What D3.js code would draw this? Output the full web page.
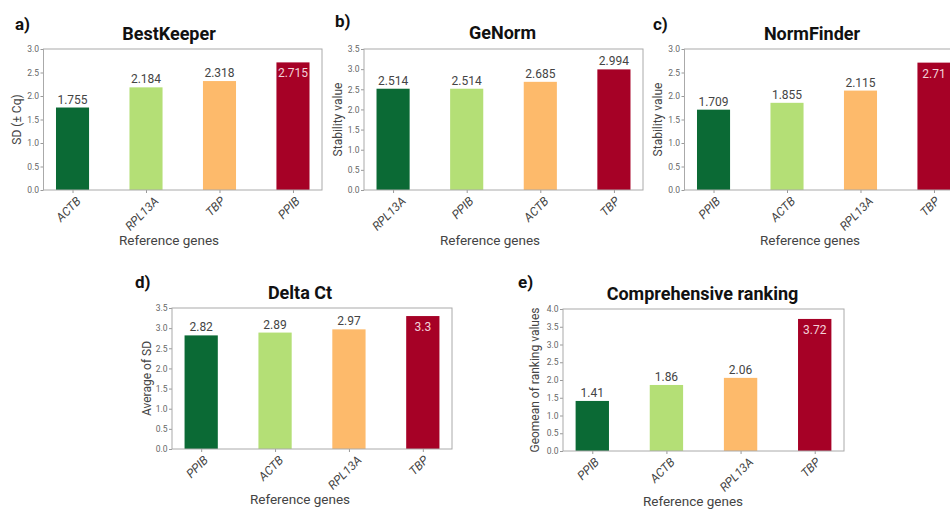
<!DOCTYPE html>
<html>
<head>
<meta charset="utf-8">
<script src="https://cdn.jsdelivr.net/npm/d3@7"></script>
<style>
  body { margin: 0; background: #fff; }
  text { font-family: Roboto, "Noto Sans", sans-serif; }
</style>
</head>
<body>
<script>
// Data
const bestKeeperGenes = ["ACTB", "RPL13A", "TBP", "PPIB"];
const bestKeeperValues = [1.755, 2.184, 2.318, 2.715];

const geNormGenes = ["RPL13A", "PPIB", "ACTB", "TBP"];
const geNormValues = [2.514, 2.514, 2.685, 2.994];

const normFinderGenes = ["PPIB", "ACTB", "RPL13A", "TBP"];
const normFinderValues = [1.709, 1.855, 2.115, 2.71];

const deltaCtGenes = ["PPIB", "ACTB", "RPL13A", "TBP"];
const deltaCtValues = [2.82, 2.89, 2.97, 3.3];

const rankingGenes = ["PPIB", "ACTB", "RPL13A", "TBP"];
const rankingValues = [1.41, 1.86, 2.06, 3.72];

const ticks30 = [0, 0.5, 1.0, 1.5, 2.0, 2.5, 3.0];
const ticks35 = [0, 0.5, 1.0, 1.5, 2.0, 2.5, 3.0, 3.5];
const ticks40 = [0, 0.5, 1.0, 1.5, 2.0, 2.5, 3.0, 3.5, 4.0];

// one colour per rank (most to least stable)
const rankColors = ["#0b6a35", "#b4df76", "#fdba6b", "#a60126"];

const width = 950, height = 510;

// panel layout
const panels = [
  { letter: "a)", title: "BestKeeper", ylab: "SD (\u00b1 Cq)", genes: bestKeeperGenes, values: bestKeeperValues, ticks: ticks30,
    x0: 43.5, x1: 322, y0: 49, y1: 190, lx: 15, ly: 30, tx: 169, ty: 40, xtx: 169, ylx: 16.5 },
  { letter: "b)", title: "GeNorm", ylab: "Stability value", genes: geNormGenes, values: geNormValues, ticks: ticks35,
    x0: 364, x1: 643, y0: 49, y1: 190, lx: 335, ly: 27, tx: 502.5, ty: 39, xtx: 490, ylx: 337.5 },
  { letter: "c)", title: "NormFinder", ylab: "Stability value", genes: normFinderGenes, values: normFinderValues, ticks: ticks30,
    x0: 684.5, x1: 963, y0: 49, y1: 190, lx: 653, ly: 30, tx: 812, ty: 40, xtx: 810, ylx: 658 },
  { letter: "d)", title: "Delta Ct", ylab: "Average of SD", genes: deltaCtGenes, values: deltaCtValues, ticks: ticks35,
    x0: 172, x1: 452, y0: 308, y1: 449, lx: 135, ly: 288, tx: 300, ty: 299, xtx: 300, ylx: 147 },
  { letter: "e)", title: "Comprehensive ranking", ylab: "Geomean of ranking values", genes: rankingGenes, values: rankingValues, ticks: ticks40,
    x0: 563, x1: 844, y0: 309, y1: 451, lx: 518, ly: 288, tx: 702.5, ty: 300, xtx: 693, ylx: 535 }
];

const svg = d3.select("body")
  .append("svg")
  .attr("width", width)
  .attr("height", height)
  .style("background", "#fff");

panels.forEach(function(p) {
  const g = svg.append("g");

  const x = d3.scalePoint()
    .domain(p.genes)
    .range([p.x0, p.x1])
    .padding(0.395);
  const barW = x.step() * 0.45;

  const y = d3.scaleLinear()
    .domain([0, d3.max(p.ticks)])
    .range([p.y1, p.y0]);

  // y axis
  const yAxis = g.append("g")
    .attr("transform", `translate(${p.x0},0)`)
    .call(d3.axisLeft(y).tickValues(p.ticks).tickFormat(d3.format(".1f")).tickSizeOuter(0).tickSize(3).tickPadding(1.5));
  yAxis.select(".domain").remove();
  yAxis.selectAll("line").attr("stroke", "#999");
  yAxis.selectAll("text")
    .attr("fill", "#666")
    .style("font-size", "8.5px")
    .style("font-family", "Roboto, sans-serif");

  // x axis ticks
  const xAxis = g.append("g")
    .attr("transform", `translate(0,${p.y1})`)
    .call(d3.axisBottom(x).tickSize(3).tickFormat(""));
  xAxis.select(".domain").remove();
  xAxis.selectAll("line").attr("stroke", "#999");

  // bars
  g.selectAll("rect.bar")
    .data(p.genes.map((d, i) => ({ gene: d, value: p.values[i], i: i })))
    .enter().append("rect")
    .attr("class", "bar")
    .attr("x", d => x(d.gene) - barW / 2)
    .attr("y", d => y(d.value))
    .attr("width", barW)
    .attr("height", d => y(0) - y(d.value))
    .attr("fill", d => rankColors[d.i]);

  // value labels
  const ymax = d3.max(p.ticks);
  p.genes.forEach(function(gene, i) {
    const v = p.values[i];
    const inside = v / ymax > 0.88;
    g.append("text")
      .attr("x", x(gene))
      .attr("y", inside ? y(v) + 15 : y(v) - 4)
      .attr("text-anchor", "middle")
      .attr("fill", inside ? "#f3d2d9" : "#444")
      .style("font-size", "12px")
      .text(String(v));
  });

  // plot frame
  g.append("rect")
    .attr("x", p.x0)
    .attr("y", p.y0)
    .attr("width", p.x1 - p.x0)
    .attr("height", p.y1 - p.y0)
    .attr("fill", "none")
    .attr("stroke", "#aaa")
    .attr("stroke-width", 1);

  // rotated italic gene labels
  const fs = 12, ang = 45, rad = ang * Math.PI / 180;
  p.genes.forEach(function(gene) {
    const t = g.append("text")
      .attr("text-anchor", "middle")
      .attr("dominant-baseline", "central")
      .attr("fill", "#444")
      .style("font-size", fs + "px")
      .style("font-style", "italic")
      .text(gene);
    const L = t.node().getComputedTextLength();
    const h = fs * 0.72;
    const bh = L * Math.sin(rad) + h * Math.cos(rad);
    const cx = x(gene) - 4;
    const cy = p.y1 + 6 + bh / 2;
    t.attr("transform", `translate(${cx},${cy}) rotate(${-ang})`);
  });

  // x axis title
  g.append("text")
    .attr("x", p.xtx)
    .attr("y", p.y1 + 55)
    .attr("text-anchor", "middle")
    .attr("fill", "#444")
    .style("font-size", "13.5px")
    .text("Reference genes");

  // y axis title
  g.append("text")
    .attr("transform", `translate(${p.ylx},${(p.y0 + p.y1) / 2}) rotate(-90)`)
    .attr("text-anchor", "middle")
    .attr("dominant-baseline", "central")
    .attr("fill", "#444")
    .style("font-size", "12px")
    .text(p.ylab);

  // title
  g.append("text")
    .attr("x", p.tx)
    .attr("y", p.ty)
    .attr("text-anchor", "middle")
    .attr("fill", "#111")
    .style("font-size", "18px")
    .style("font-weight", "bold")
    .text(p.title);

  // panel letter
  g.append("text")
    .attr("x", p.lx)
    .attr("y", p.ly)
    .attr("fill", "#111")
    .style("font-size", "17px")
    .style("font-weight", "bold")
    .text(p.letter);
});
</script>
</body>
</html>
